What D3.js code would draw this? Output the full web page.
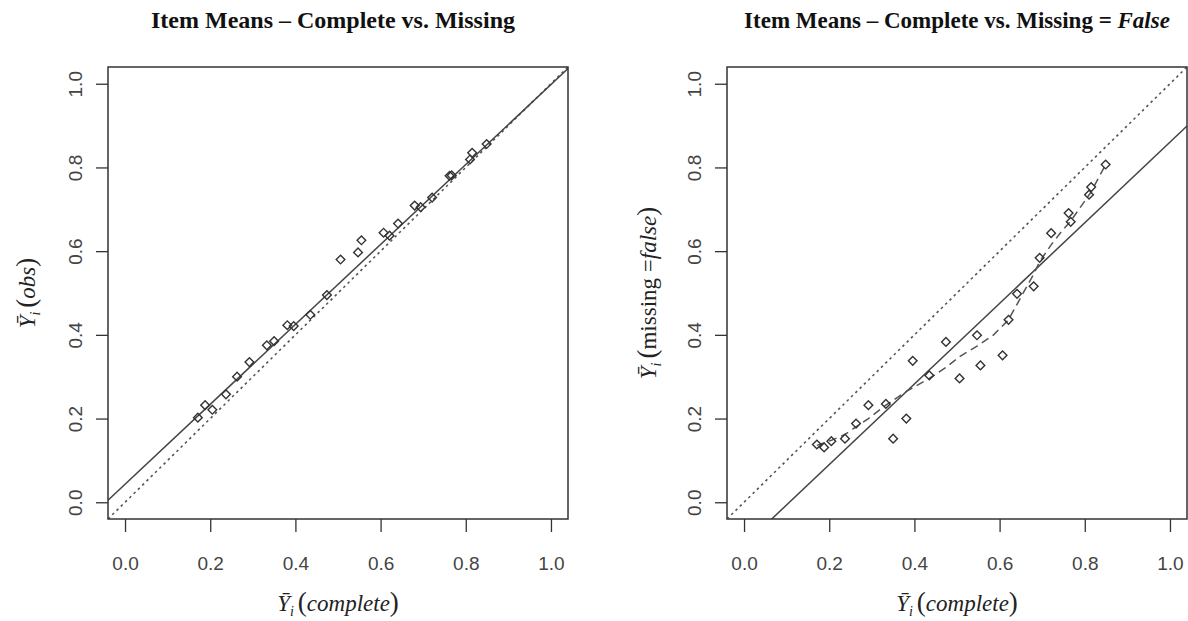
<!DOCTYPE html>
<html lang="en">
<head>
    <meta charset="UTF-8">
    <title>item-means</title>
    <script src="https://cdn.jsdelivr.net/npm/d3@7"></script>
    <style>
        body { margin: 0; background: #fff; }
    </style>
</head>
<body>
    <svg width="1188" height="621" id="mainsvg"></svg>
    <script>
        // item means of the complete data (x), shared by both panels
        const completeMeans = [0.171, 0.188, 0.205, 0.237, 0.263, 0.292, 0.333, 0.350, 0.381, 0.396, 0.435, 0.474, 0.506,
            0.547, 0.555, 0.607, 0.621, 0.641, 0.680, 0.694, 0.721, 0.762, 0.767, 0.810, 0.815, 0.849]
        // left panel: observed means
        const obsMeans = [0.202, 0.232, 0.221, 0.258, 0.300, 0.335, 0.375, 0.385, 0.423, 0.421, 0.448, 0.495, 0.580,
            0.597, 0.626, 0.644, 0.637, 0.666, 0.709, 0.705, 0.728, 0.780, 0.781, 0.819, 0.835, 0.856]
        // right panel: means where missing = false
        const falseMeans = [0.138, 0.131, 0.146, 0.152, 0.188, 0.232, 0.235, 0.152, 0.200, 0.338, 0.303, 0.383, 0.296,
            0.399, 0.327, 0.351, 0.436, 0.498, 0.516, 0.584, 0.643, 0.691, 0.670, 0.735, 0.753, 0.807]
        // smooth (dashed) curve of right panel
        const lowessX = [0.171, 0.205, 0.237, 0.263, 0.292, 0.333, 0.381, 0.435, 0.474, 0.506, 0.547, 0.586, 0.621,
            0.650, 0.680, 0.694, 0.721, 0.744, 0.767, 0.814, 0.849]
        const lowessY = [0.136, 0.148, 0.162, 0.180, 0.200, 0.232, 0.265, 0.296, 0.322, 0.348, 0.373, 0.400, 0.436,
            0.490, 0.545, 0.575, 0.615, 0.645, 0.672, 0.740, 0.807]
        // fitted lines: [intercept, slope]
        const obsFit = [0.043, 0.955]
        const falseFit = [-0.1026, 0.963]
        const tickValues = [0, 0.2, 0.4, 0.6, 0.8, 1.0]

        const svg = d3.select('#mainsvg')
        const boxTop = 67, boxBottom = 519, boxW = 460
        const domain = [-0.04, 1.04]
        const ink = '#333'

        function drawPanel(left, id, ys, fit, smooth) {
            const x = d3.scaleLinear().domain(domain).range([left, left + boxW])
            const y = d3.scaleLinear().domain(domain).range([boxBottom, boxTop])
            const g = svg.append('g').attr('id', id)

            svg.append('clipPath').attr('id', id + '-clip')
                .append('rect').attr('x', left).attr('y', boxTop).attr('width', boxW).attr('height', boxBottom - boxTop)

            // x axis
            const xAxis = d3.axisBottom(x).tickValues(tickValues).tickSize(13).tickPadding(25).tickFormat(d3.format('.1f'))
            const xg = g.append('g').attr('transform', `translate(0,${boxBottom})`).call(xAxis)
            xg.select('.domain').remove()
            xg.selectAll('line').attr('stroke', ink).attr('stroke-width', 1.3)
            xg.selectAll('text').attr('font-family', 'Liberation Sans, Arial, sans-serif').attr('font-size', 19).attr('fill', '#444')

            // y axis with rotated labels (R style)
            const yAxis = d3.axisLeft(y).tickValues(tickValues).tickSize(12).tickFormat(d3.format('.1f'))
            const yg = g.append('g').attr('transform', `translate(${left},0)`).call(yAxis)
            yg.select('.domain').remove()
            yg.selectAll('line').attr('stroke', ink).attr('stroke-width', 1.3)
            yg.selectAll('text')
                .attr('x', 0).attr('dy', '0.35em')
                .attr('text-anchor', 'middle')
                .attr('transform', 'translate(-33,0) rotate(-90)')
                .attr('font-family', 'Liberation Sans, Arial, sans-serif').attr('font-size', 19).attr('fill', '#444')

            const plot = g.append('g').attr('clip-path', `url(#${id}-clip)`)
            const line = d3.line().x(d => x(d[0])).y(d => y(d[1]))

            // y = x reference
            plot.append('path').attr('d', line(domain.map(v => [v, v])))
                .attr('fill', 'none').attr('stroke', '#555').attr('stroke-width', 1.6).attr('stroke-dasharray', '2.5,3.5')
            // fitted line
            plot.append('path').attr('d', line(domain.map(v => [v, fit[0] + fit[1] * v])))
                .attr('fill', 'none').attr('stroke', '#444').attr('stroke-width', 1.5)
            if (smooth) {
                plot.append('path').attr('d', line(smooth[0].map((v, i) => [v, smooth[1][i]])))
                    .attr('fill', 'none').attr('stroke', '#555').attr('stroke-width', 1.5).attr('stroke-dasharray', '8,5')
            }

            // points: hollow diamonds
            const diamond = d3.symbol().type(d3.symbolSquare).size(38)
            plot.selectAll('.pt').data(completeMeans.map((v, i) => [v, ys[i]])).join('path')
                .attr('class', 'pt')
                .attr('d', diamond)
                .attr('transform', d => `translate(${x(d[0])},${y(d[1])}) rotate(45)`)
                .attr('fill', 'none').attr('stroke', ink).attr('stroke-width', 1.4)

            // box
            g.append('rect').attr('x', left).attr('y', boxTop).attr('width', boxW).attr('height', boxBottom - boxTop)
                .attr('fill', 'none').attr('stroke', ink).attr('stroke-width', 1.5)

            return { cx: left + boxW / 2 }
        }

        function yBar(t) {
            t.append('tspan').attr('font-style', 'italic').text('Ȳ')
            t.append('tspan').attr('font-style', 'italic').attr('font-size', 14).attr('dy', 5).text('i')
            t.append('tspan').attr('font-size', 27).attr('dy', -5).attr('dx', 4).text('(')
        }

        const p1 = drawPanel(108, 'left', obsMeans, obsFit, null)
        const p2 = drawPanel(727, 'right', falseMeans, falseFit, [lowessX, lowessY])

        const serif = 'Liberation Serif, Times New Roman, serif'

        // titles
        svg.append('text').attr('x', p1.cx - 5).attr('y', 28).attr('text-anchor', 'middle')
            .attr('font-family', serif).attr('font-weight', 'bold').attr('font-size', 24).attr('fill', '#111')
            .text('Item Means – Complete vs. Missing')
        const t2 = svg.append('text').attr('x', p2.cx).attr('y', 28).attr('text-anchor', 'middle')
            .attr('font-family', serif).attr('font-weight', 'bold').attr('font-size', 23).attr('fill', '#111')
        t2.append('tspan').text('Item Means – Complete vs. Missing = ')
        t2.append('tspan').attr('font-style', 'italic').text('False')

        // x axis labels
        ;[p1, p2].forEach(p => {
            const t = svg.append('text').attr('x', p.cx).attr('y', 611).attr('text-anchor', 'middle')
                .attr('font-family', serif).attr('font-size', 23).attr('fill', '#222')
            yBar(t)
            t.append('tspan').attr('font-style', 'italic').text('complete')
            t.append('tspan').attr('font-size', 27).text(')')
        })

        // y axis labels
        const yl1 = svg.append('text').attr('transform', `translate(35,${(boxTop + boxBottom) / 2}) rotate(-90)`)
            .attr('text-anchor', 'middle').attr('font-family', serif).attr('font-size', 23).attr('fill', '#222')
        yBar(yl1)
        yl1.append('tspan').attr('font-style', 'italic').text('obs')
        yl1.append('tspan').attr('font-size', 27).text(')')

        const yl2 = svg.append('text').attr('transform', `translate(656,${(boxTop + boxBottom) / 2}) rotate(-90)`)
            .attr('text-anchor', 'middle').attr('font-family', serif).attr('font-size', 23).attr('fill', '#222')
        yBar(yl2)
        yl2.append('tspan').text('missing =')
        yl2.append('tspan').attr('font-style', 'italic').text('false')
        yl2.append('tspan').attr('font-size', 27).text(')')
    </script>
</body>
</html>
